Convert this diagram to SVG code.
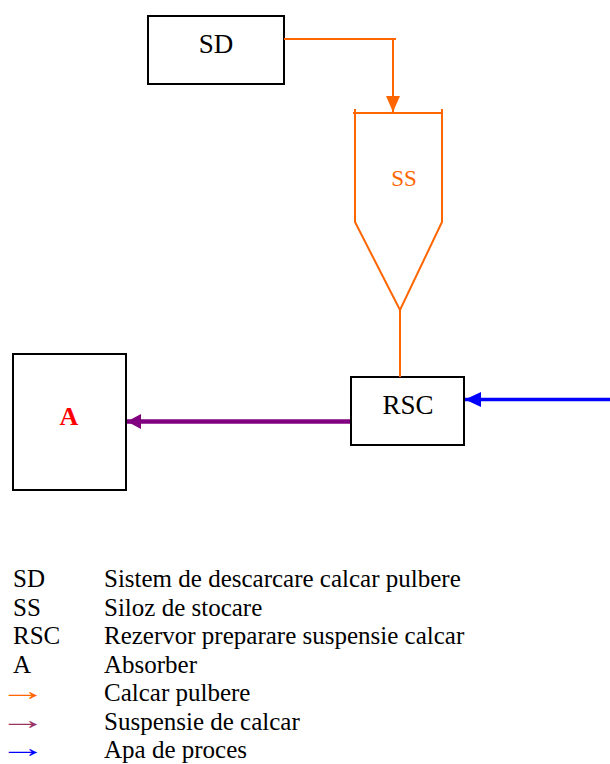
<svg xmlns="http://www.w3.org/2000/svg" width="610" height="764" viewBox="0 0 610 764">
<style>
.box{fill:#fff;stroke:#000;stroke-width:2}
.t{font-family:'Liberation Serif','Times New Roman','DejaVu Serif',serif;fill:#000}
.or{stroke:#ff6600;stroke-width:2;fill:none}
</style>
<defs>
<marker id="ao" markerWidth="16" markerHeight="16" refX="8" refY="16" orient="0" markerUnits="userSpaceOnUse"><path d="M1,0 L15,0 L8,16 z" fill="#ff6600"/></marker>
<marker id="ap" markerWidth="14" markerHeight="15" refX="14" refY="7.5" orient="auto" markerUnits="userSpaceOnUse"><path d="M0,0 L14,7.5 L0,15 z" fill="#800080"/></marker>
<marker id="ab" markerWidth="16" markerHeight="15" refX="16" refY="7.5" orient="auto" markerUnits="userSpaceOnUse"><path d="M0,0 L16,7.5 L0,15 z" fill="#0000ff"/></marker>
</defs>
<g id="SD">
<rect class="box" x="148" y="16" width="136" height="68"/>
<text class="t" x="216" y="53" font-size="27" text-anchor="middle">SD</text>
</g>
<g id="SS">
<path class="or" d="M353,113 H443 M355,109 V222 L400,310 L442,222 V109"/>
<text class="t" x="404" y="186" font-size="23" text-anchor="middle" style="fill:#ff6600">SS</text>
</g>
<g id="RSC">
<rect class="box" x="351" y="377" width="113" height="68"/>
<text class="t" x="408" y="414" font-size="27" text-anchor="middle">RSC</text>
</g>
<g id="A">
<rect class="box" x="13" y="354" width="113" height="136"/>
<text class="t" x="69" y="425" font-size="26" font-weight="bold" text-anchor="middle" style="fill:#ff0000">A</text>
</g>
<g id="connectors">
<path class="or" d="M284,39 H396 M393,39 V112" marker-end="url(#ao)"/>
<path class="or" d="M400,310 V377"/>
<line x1="350" y1="421.5" x2="127" y2="421.5" stroke="#800080" stroke-width="4.5" marker-end="url(#ap)"/>
<line x1="610" y1="399.5" x2="465" y2="399.5" stroke="#0000ff" stroke-width="3.5" marker-end="url(#ab)"/>
</g>
<g id="legend" font-size="25">
<text class="t" x="13" y="587">SD</text><text class="t" x="104" y="587">Sistem de descarcare calcar pulbere</text>
<text class="t" x="13" y="615.5">SS</text><text class="t" x="104" y="615.5">Siloz de stocare</text>
<text class="t" x="13" y="644">RSC</text><text class="t" x="104" y="644">Rezervor preparare suspensie calcar</text>
<text class="t" x="13" y="672.5">A</text><text class="t" x="104" y="672.5">Absorber</text>
<text class="t" transform="translate(-1,700) scale(1.9,1.1)" style="fill:#ff6600">→</text><text class="t" x="104" y="701">Calcar pulbere</text>
<text class="t" transform="translate(-1,728.5) scale(1.9,1.1)" style="fill:#993366">→</text><text class="t" x="104" y="729.5">Suspensie de calcar</text>
<text class="t" transform="translate(-1,757) scale(1.9,1.1)" style="fill:#0000ff">→</text><text class="t" x="104" y="758">Apa de proces</text>
</g>
</svg>
